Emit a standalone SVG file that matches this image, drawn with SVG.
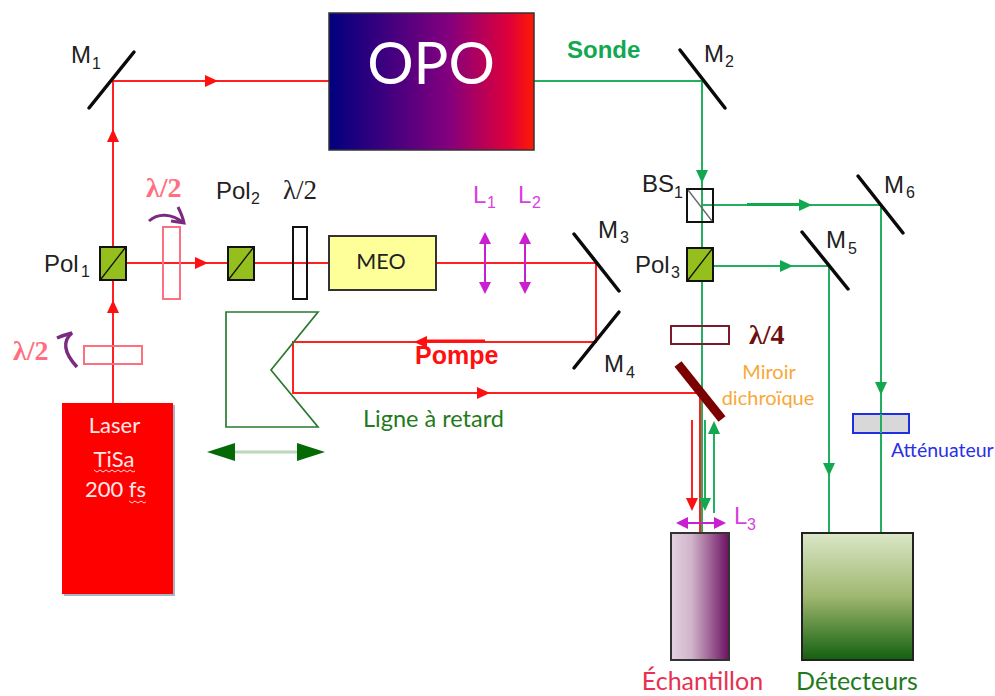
<svg xmlns="http://www.w3.org/2000/svg" xmlns:xlink="http://www.w3.org/1999/xlink" width="995" height="696" viewBox="0 0 995 696">
<style>
text{font-family:"Liberation Sans",Arial,sans-serif;font-size:24px;fill:#222}
.lato{font-family:Lato,"Liberation Sans",sans-serif}
.lam{font-family:"Liberation Serif","DejaVu Serif",serif;font-weight:bold;font-size:28px}
.sub{font-size:16px}
.pk{fill:#d83fe0}
.r{stroke:#ff2020;stroke-width:2;fill:none}
.g{stroke:#22b060;stroke-width:2;fill:none}
.mir{stroke:#0a0a0a;stroke-width:3.500;stroke-linecap:round}
.pol{fill:#94bf1c;stroke:#111;stroke-width:2}
.diag{stroke:#111;stroke-width:1.3}
.mag{stroke:#c81fd0;stroke-width:2;fill:none}
.magf{fill:#c81fd0}
.sq{fill:none;stroke:#ffd8d8;stroke-width:1}
</style>
<defs>
<linearGradient id="opoG"><stop offset="0" stop-color="#00007f"/><stop offset=".58" stop-color="#82007f"/><stop offset=".88" stop-color="#e0003a"/><stop offset="1" stop-color="#ff1a00"/></linearGradient>
<linearGradient id="echG"><stop offset="0" stop-color="#e6d2e2"/><stop offset=".35" stop-color="#d0b5cb"/><stop offset="1" stop-color="#6c1062"/></linearGradient>
<linearGradient id="detG" x2="0" y2="1"><stop offset="0" stop-color="#dbe7c8"/><stop offset=".5" stop-color="#9fb76f"/><stop offset="1" stop-color="#13600f"/></linearGradient>
<polygon id="ar" points="-7,-6 6,0 -7,6" fill="#ff1010"/>
<polygon id="ag" points="-7,-6 6,0 -7,6" fill="#12a850"/>
</defs>

<g id="connectors">
<path class="r" d="M113 403V81H329"/>
<path class="r" d="M118 263H329M436 263H596V342H293V393H700V533"/>
<path class="r" d="M692 420V505"/>
<path class="g" d="M534 81H702V534"/>
<path class="g" d="M702 205H881V533M702 266H829V533"/>
<path class="g" d="M705 420V505M714 513V425"/>
<use xlink:href="#ar" transform="translate(212,81)"/>
<use xlink:href="#ar" transform="translate(113,135) rotate(-90)"/>
<use xlink:href="#ar" transform="translate(113,306) rotate(-90)"/>
<use xlink:href="#ar" transform="translate(202,263)"/>
<use xlink:href="#ar" transform="translate(420,342) rotate(180)"/>
<use xlink:href="#ar" transform="translate(484,393)"/>
<use xlink:href="#ar" transform="translate(692,505) rotate(90)"/>
<use xlink:href="#ag" transform="translate(702,177) rotate(90)"/>
<use xlink:href="#ag" transform="translate(806,205)"/>
<use xlink:href="#ag" transform="translate(787,266)"/>
<use xlink:href="#ag" transform="translate(829,470) rotate(90)"/>
<use xlink:href="#ag" transform="translate(881,389) rotate(90)"/>
<use xlink:href="#ag" transform="translate(705,505) rotate(90)"/>
<use xlink:href="#ag" transform="translate(714,427) rotate(-90)"/>
<path d="M747 204.500H805" stroke="#12a850" stroke-width="3" fill="none"/>
<path d="M420 341H485" stroke="#ff1010" stroke-width="3" fill="none"/>
</g>

<g id="m1"><line class="mir" x1="89" y1="108" x2="134" y2="52"/><text x="71" y="63">M</text><text class="sub" x="92" y="69">1</text></g>
<g id="m2"><line class="mir" x1="680" y1="50" x2="725" y2="108"/><text x="704" y="62">M</text><text class="sub" x="725" y="67">2</text></g>
<g id="m3"><line class="mir" x1="574" y1="234" x2="619" y2="291"/><text x="598" y="238">M</text><text class="sub" x="620" y="243">3</text></g>
<g id="m4"><line class="mir" x1="619" y1="312" x2="574" y2="368"/><text x="604" y="372">M</text><text class="sub" x="626" y="378">4</text></g>
<g id="m5"><line class="mir" x1="802" y1="232" x2="848" y2="289"/><text x="826" y="248">M</text><text class="sub" x="848" y="254">5</text></g>
<g id="m6"><line class="mir" x1="858" y1="176" x2="903" y2="233"/><text x="884" y="193">M</text><text class="sub" x="906" y="198">6</text></g>

<g id="opo"><rect x="329" y="13" width="205" height="137" fill="url(#opoG)" stroke="#333" stroke-width="1.500"/><text class="lato" x="431" y="84" text-anchor="middle" style="fill:#fff;font-size:58px">OPO</text></g>
<text id="sonde" x="567" y="58" style="fill:#12a850;font-weight:bold;font-size:24px">Sonde</text>

<g id="pol1"><rect class="pol" x="100" y="247" width="26" height="33"/><line class="diag" x1="101" y1="279" x2="125" y2="248"/><text x="44" y="272">Pol</text><text class="sub" x="81" y="277">1</text></g>
<g id="pol2"><rect class="pol" x="228" y="247" width="26" height="33"/><line class="diag" x1="229" y1="279" x2="253" y2="248"/><text x="216" y="199">Pol</text><text class="sub" x="251" y="204">2</text></g>
<g id="pol3"><rect class="pol" x="687" y="248" width="26" height="33"/><line class="diag" x1="688" y1="280" x2="712" y2="249"/><text x="635" y="273">Pol</text><text class="sub" x="671" y="278">3</text></g>
<g id="bs1"><rect x="687" y="189" width="26" height="33" fill="none" stroke="#111" stroke-width="2"/><line x1="688" y1="190" x2="712" y2="221" stroke="#666" stroke-width="1.300"/><text x="642" y="192">BS</text><text class="sub" x="674" y="198">1</text></g>

<g id="wp-lower"><rect x="84" y="346" width="58" height="18" fill="none" stroke="#ff6f80" stroke-width="2"/><text class="lam" x="13" y="360" style="fill:#ff6f80">λ/2</text><path d="M57 338C64 335 68 334 72 333C62 341 64 353 77 367" fill="none" stroke="#7a2a80" stroke-width="3.500"/></g>
<g id="wp-upper"><rect x="163" y="227" width="17" height="72" fill="none" stroke="#ff6f80" stroke-width="2"/><text class="lam" x="146" y="197" style="fill:#ff6f80">λ/2</text><path d="M149 221C158 213 171 213 184 223M178 207C181 213 183 218 184 223L171 221" fill="none" stroke="#7a2a80" stroke-width="3"/></g>
<g id="wp-black"><rect x="293" y="227" width="14" height="72" fill="none" stroke="#111" stroke-width="2"/><text x="283" y="199" style="font-family:'Liberation Serif',serif;font-size:27px">λ/2</text></g>

<g id="meo"><rect x="329" y="236" width="107" height="54" fill="#ffff99" stroke="#333" stroke-width="2"/><text class="lato" x="381" y="269" text-anchor="middle" style="font-size:21.500px">MEO</text></g>

<g id="l1"><line class="mag" x1="485" y1="240" x2="485" y2="286"/><polygon class="magf" points="485,232 479,244 491,244"/><polygon class="magf" points="485,294 479,282 491,282"/><text class="pk" x="473" y="203">L</text><text class="sub pk" x="487" y="208">1</text></g>
<g id="l2"><line class="mag" x1="525" y1="240" x2="525" y2="286"/><polygon class="magf" points="525,232 519,244 531,244"/><polygon class="magf" points="525,294 519,282 531,282"/><text class="pk" x="518" y="203">L</text><text class="sub pk" x="532" y="208">2</text></g>

<text id="pompe" x="415" y="364" style="fill:#ff1010;font-weight:bold;font-size:25px">Pompe</text>

<g id="ligne"><polygon points="226,312 318,312 271,370 318,427 226,427" fill="none" stroke="#2c7a30" stroke-width="1.700"/>
<line x1="230" y1="452" x2="300" y2="452" stroke="#bcd8bc" stroke-width="3"/>
<polygon points="207,452 235,443 235,461" fill="#056905"/><polygon points="325,452 297,443 297,461" fill="#056905"/>
<text class="lato" x="363" y="427" style="fill:#1f7a20;font-size:23.500px">Ligne à retard</text></g>

<g id="laser"><rect x="64" y="405" width="111" height="191" fill="#a8b4c8"/><rect x="62" y="403" width="111" height="191" fill="#ff0000"/>
<text class="lato" x="114.500" y="433" text-anchor="middle" style="fill:#ffe8e8;font-size:22px">Laser</text><text class="lato" x="114" y="467" text-anchor="middle" style="fill:#ffe8e8;font-size:22px">TiSa</text><text class="lato" x="115.500" y="497" text-anchor="middle" style="fill:#ffe8e8;font-size:22px">200 fs</text>
<path class="sq" d="M94 470l3 2 3-2 3 2 3-2 3 2 3-2 3 2 3-2 3 2 3-2 3 2 3-2 3 2 2-1M129 501l3 2 3-2 3 2 3-2 3 2 2-1"/></g>

<g id="lambda4"><rect x="671" y="326" width="58" height="18" fill="none" stroke="#7b1a2a" stroke-width="2"/><text class="lam" x="749" y="344" style="fill:#6e1010">λ/4</text></g>
<g id="dichro"><line x1="678" y1="364" x2="722" y2="419" stroke="#7b0000" stroke-width="9"/><text class="lato" x="769" y="379" text-anchor="middle" style="fill:#f8a838;font-size:20px">Miroir</text><text class="lato" x="768" y="405" text-anchor="middle" style="fill:#f8a838;font-size:20px">dichroïque</text></g>

<g id="attenuateur"><rect x="853" y="414" width="56" height="19" fill="#d8d8d8" stroke="#2030e0" stroke-width="2"/><line x1="881" y1="414" x2="881" y2="433" stroke="#22b060" stroke-width="2"/><text class="lato" x="891" y="457" style="fill:#2a30e8;font-size:19.500px">Atténuateur</text></g>

<g id="l3"><line class="mag" x1="680" y1="523" x2="722" y2="523"/><polygon class="magf" points="676,523 688,517 688,529"/><polygon class="magf" points="726,523 714,517 714,529"/><text class="pk" x="734" y="524">L</text><text class="sub pk" x="747" y="530">3</text></g>

<g id="echantillon"><rect x="671" y="533" width="58" height="127" fill="url(#echG)" stroke="#333" stroke-width="2"/><text class="lato" x="702.500" y="690" text-anchor="middle" style="fill:#e83050;font-size:25px">Échantillon</text></g>
<g id="detecteurs"><rect x="802" y="533" width="111" height="127" fill="url(#detG)" stroke="#222" stroke-width="2"/><text class="lato" x="857" y="690" text-anchor="middle" style="fill:#1f7a20;font-size:25px">Détecteurs</text></g>
</svg>
